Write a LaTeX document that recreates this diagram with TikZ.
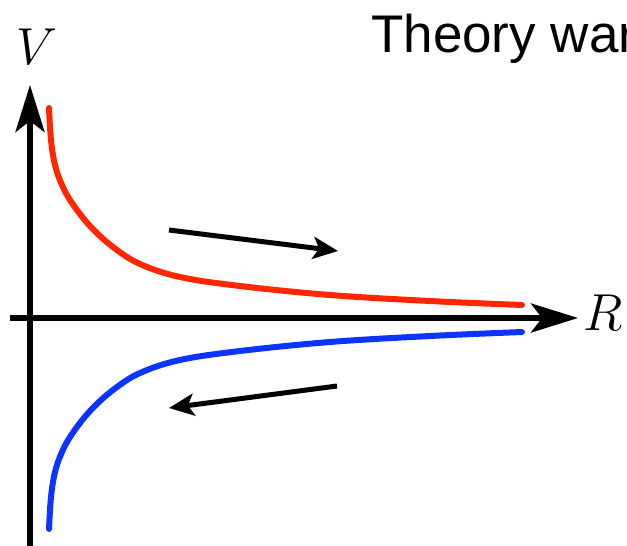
\documentclass[tikz,border=0pt]{standalone}
\usepackage{fontspec}
\newfontfamily\arialfont{Liberation Sans}
\usetikzlibrary{arrows.meta}
\definecolor{curvered}{RGB}{255,38,0}
\definecolor{curveblue}{RGB}{12,52,255}
\tikzset{
  axis/.style={line width=5.5pt,-{Stealth[length=47pt,width=29pt,inset=11pt]}},
  flow/.style={line width=5pt,-{Stealth[length=25pt,width=22pt,inset=6pt]}},
  curve/.style={line width=6pt,line cap=round},
  lbl/.style={inner sep=0pt,font=\Huge,scale=2.09}
}
\begin{document}
\begin{tikzpicture}[x=1pt,y=-1pt]
\useasboundingbox (0,0) rectangle (627,546);
% axes
\coordinate (vb) at (30,548);
\coordinate (vt) at (30,85);
\coordinate (hl) at (10,318);
\coordinate (hr) at (578,318);
\draw[axis] (vb) -- (vt);
\draw[axis] (hl) -- (hr);
\node[lbl] (V) at (37,47) {$V$};
\node[lbl] (R) at (603,313) {$R$};
% curves
\draw[curve,curvered] plot[smooth,tension=0.6] coordinates {(49,108) (51,140) (55,165) (62,185) (72,203) (90,226) (113,247) (140,264) (180,277) (240,286) (330,295) (430,301) (522,305)};
\draw[curve,curveblue] plot[smooth,tension=0.6] coordinates {(49,529) (51,497) (55,472) (62,452) (72,434) (90,411) (113,390) (140,373) (180,360) (240,351) (330,342) (430,336) (522,332)};
% flow arrows
\coordinate (a1) at (169,230);
\coordinate (a2) at (338,251);
\coordinate (b1) at (337,386);
\coordinate (b2) at (169,408);
\draw[flow] (a1) -- (a2);
\draw[flow] (b1) -- (b2);
% title
\node[inner sep=0pt,anchor=base west,font=\arialfont\fontsize{53}{53}\selectfont] (title) at (371,52) {Theory war};
\end{tikzpicture}
\end{document}
